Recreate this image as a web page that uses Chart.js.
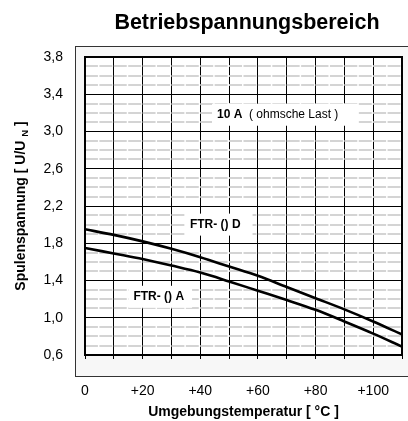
<!DOCTYPE html>
<html>
<head>
<meta charset="utf-8">
<script src="https://cdn.jsdelivr.net/npm/chart.js@4/dist/chart.umd.min.js"></script>
<style>
  html, body { margin: 0; padding: 0; background: #fff; }
  #wrap { width: 408px; height: 421px; }
</style>
</head>
<body>
<div id="wrap"><canvas id="chart" width="408" height="421"></canvas></div>
<script>
// --- data ---
const temps = [0, 10, 20, 30, 40, 50, 60, 70, 80, 90, 100, 110];
const voltD = [1.95, 1.89, 1.82, 1.74, 1.65, 1.55, 1.45, 1.33, 1.21, 1.09, 0.96, 0.82];
const voltA = [1.75, 1.69, 1.63, 1.56, 1.485, 1.39, 1.29, 1.19, 1.085, 0.96, 0.83, 0.69];
const yMajor = [0.6, 1.0, 1.4, 1.8, 2.2, 2.6, 3.0, 3.4, 3.8];
const xLabeled = [0, 20, 40, 60, 80, 100];

const FONT = "'Liberation Sans', Arial, sans-serif";

// text labels inside the plot, placed in data units
const notes = [
    { x: 45.8, y: 3.18, parts: [['10 A', true], ['  ( ohmsche Last )', false]], padR: 20 },
    { x: 36.4, y: 2.0, parts: [['FTR- () D', true]], padR: 12 },
    { x: 16.8, y: 1.225, parts: [['FTR- () A', true]], padR: 8 }
];

function isMajor(v) {
    return yMajor.some(m => Math.abs(m - v) < 1e-6);
}

const drawPlugin = {
    id: 'drawPlugin',
    beforeDraw(chart) {
        const ctx = chart.ctx, a = chart.chartArea;
        ctx.save();
        ctx.fillStyle = '#fff';
        ctx.fillRect(0, 0, chart.width, chart.height);
        // outer frame
        ctx.fillStyle = '#f7f7f7';
        ctx.fillRect(75, 46, 340, 330);
        ctx.strokeStyle = '#333';
        ctx.lineWidth = 1;
        ctx.strokeRect(75.5, 46.5, 340, 330);
        ctx.fillStyle = '#fff';
        ctx.fillRect(a.left, a.top, a.right - a.left, a.bottom - a.top);
        ctx.restore();
    },
    beforeDatasetsDraw(chart) {
        // dashed light minor lines
        const ctx = chart.ctx, a = chart.chartArea;
        const xs = chart.scales.x, ys = chart.scales.y;
        const period = xs.getPixelForValue(5) - xs.getPixelForValue(0);
        ctx.save();
        ctx.strokeStyle = '#d4d4d4';
        ctx.lineWidth = 2;
        ctx.setLineDash([period - 1.5, 1.5]);
        ys.ticks.forEach(t => {
            if (isMajor(t.value)) return;
            const py = Math.round(ys.getPixelForValue(t.value));
            ctx.beginPath();
            ctx.moveTo(a.left, py);
            ctx.lineTo(a.right, py);
            ctx.stroke();
        });
        ctx.restore();
    },
    afterDatasetsDraw(chart) {
        const ctx = chart.ctx, a = chart.chartArea;
        const xs = chart.scales.x, ys = chart.scales.y;
        ctx.save();
        // plot frame
        ctx.strokeStyle = '#000';
        ctx.lineWidth = 2;
        ctx.strokeRect(a.left, a.top, a.right - a.left, a.bottom - a.top);

        // labels in the plot
        ctx.textBaseline = 'middle';
        ctx.textAlign = 'left';
        notes.forEach(n => {
            const px = xs.getPixelForValue(n.x);
            const py = ys.getPixelForValue(n.y);
            let w = 0;
            n.parts.forEach(p => {
                ctx.font = (p[1] ? 'bold ' : '') + '12px ' + FONT;
                w += ctx.measureText(p[0]).width;
            });
            ctx.fillStyle = '#fff';
            ctx.fillRect(px - 5, py - 11, w + 5 + n.padR, 22);
            let cx = px;
            ctx.fillStyle = '#000';
            n.parts.forEach(p => {
                ctx.font = (p[1] ? 'bold ' : '') + '12px ' + FONT;
                ctx.fillText(p[0], cx, py);
                cx += ctx.measureText(p[0]).width;
            });
        });

        // chart title
        ctx.fillStyle = '#000';
        ctx.textAlign = 'center';
        ctx.textBaseline = 'alphabetic';
        ctx.font = 'bold 21.5px ' + FONT;
        ctx.fillText('Betriebspannungsbereich', 247, 29);

        // x axis title
        ctx.font = 'bold 14px ' + FONT;
        ctx.fillText('Umgebungstemperatur [ \u00B0C ]', (a.left + a.right) / 2, 416);

        // y axis title with subscript N
        const partsY = [['Spulenspannung [ U/U ', 14, 0], ['N', 9.5, 3], [' ]', 14, 0]];
        let total = 0;
        partsY.forEach(p => {
            ctx.font = 'bold ' + p[1] + 'px ' + FONT;
            total += ctx.measureText(p[0]).width;
        });
        ctx.translate(25, (a.top + a.bottom) / 2);
        ctx.rotate(-Math.PI / 2);
        ctx.textAlign = 'left';
        let sx = -total / 2;
        partsY.forEach(p => {
            ctx.font = 'bold ' + p[1] + 'px ' + FONT;
            ctx.fillText(p[0], sx, p[2]);
            sx += ctx.measureText(p[0]).width;
        });
        ctx.restore();
    }
};

const lineStyle = {
    borderColor: '#000',
    borderWidth: 2.6,
    pointRadius: 0,
    fill: false,
    tension: 0.4,
    cubicInterpolationMode: 'monotone'
};

new Chart(document.getElementById('chart'), {
    type: 'line',
    data: {
        datasets: [
            Object.assign({ label: 'FTR- () D', data: temps.map((t, i) => ({ x: t, y: voltD[i] })) }, lineStyle),
            Object.assign({ label: 'FTR- () A', data: temps.map((t, i) => ({ x: t, y: voltA[i] })) }, lineStyle)
        ]
    },
    options: {
        responsive: false,
        animation: false,
        devicePixelRatio: 1,
        layout: { padding: { top: 57, right: 6, left: 0, bottom: 0 } },
        plugins: { legend: { display: false }, title: { display: false }, tooltip: { enabled: false } },
        scales: {
            x: {
                type: 'linear',
                min: 0,
                max: 110,
                border: { display: false },
                grid: { color: '#000', lineWidth: 1, drawTicks: true, tickLength: 4, tickColor: '#000' },
                ticks: {
                    stepSize: 10,
                    autoSkip: false,
                    maxRotation: 0,
                    padding: 24,
                    color: '#000',
                    font: { family: FONT, size: 14 },
                    callback: v => xLabeled.includes(v) ? (v === 0 ? '0' : '+' + v) : ''
                },
                afterFit: s => { s.height = 66; s.paddingLeft = 0; s.paddingRight = 0; }
            },
            y: {
                type: 'linear',
                min: 0.6,
                max: 3.8,
                border: { display: false },
                grid: {
                    drawTicks: false,
                    lineWidth: 1,
                    color: c => isMajor(c.tick.value) ? '#000' : 'rgba(0,0,0,0)'
                },
                ticks: {
                    stepSize: 0.1,
                    autoSkip: false,
                    padding: 22,
                    color: '#000',
                    font: { family: FONT, size: 14 },
                    callback: v => isMajor(v) ? v.toFixed(1).replace('.', ',') : ''
                },
                afterFit: s => { s.width = 85; s.paddingTop = 0; s.paddingBottom = 0; }
            }
        }
    },
    plugins: [drawPlugin]
});
</script>
</body>
</html>
